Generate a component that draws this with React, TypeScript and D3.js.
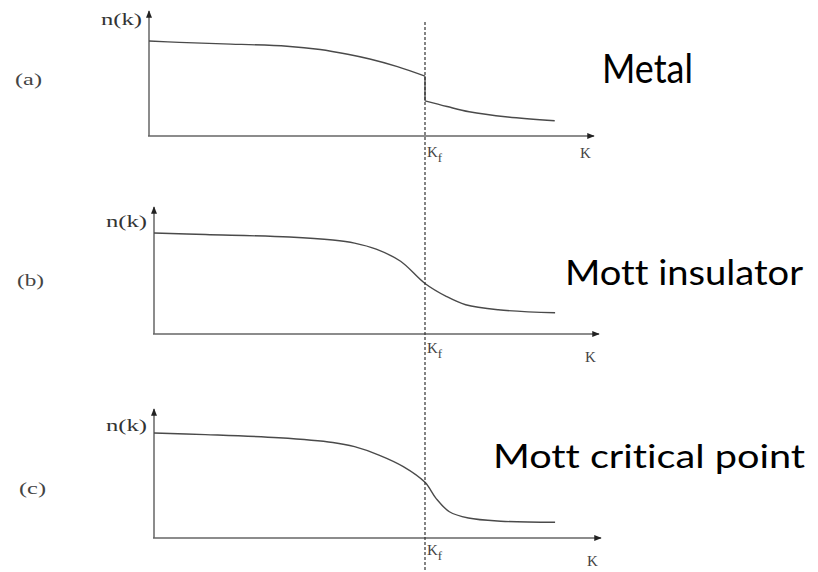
import React, { useEffect, useRef } from "react";
import * as d3 from "d3";

// k measured in units of K_f, n(k) in units of n(0)
const panelTags = ["(a)", "(b)", "(c)"];
const panelTitles = ["Metal", "Mott insulator", "Mott critical point"];

// (a) metal: two branches with a jump at K_f
const metalKBelow = [0, 0.11, 0.27, 0.5, 0.62, 0.72, 0.8, 0.9, 1.0];
const metalNBelow = [1, 0.985, 0.97, 0.945, 0.91, 0.86, 0.81, 0.73, 0.63];
const metalKAbove = [1.0, 1.08, 1.16, 1.3, 1.47];
const metalNAbove = [0.37, 0.31, 0.255, 0.2, 0.16];

// (b) Mott insulator: smooth crossover
const insK = [0, 0.19, 0.5, 0.66, 0.74, 0.82, 0.91, 1.0, 1.08, 1.15, 1.27, 1.48];
const insN = [1, 0.985, 0.96, 0.93, 0.9, 0.84, 0.72, 0.5, 0.37, 0.29, 0.24, 0.21];

// (c) Mott critical point: steeper drop
const critK = [0, 0.19, 0.46, 0.66, 0.74, 0.83, 0.92, 1.0, 1.04, 1.09, 1.16, 1.28, 1.48];
const critN = [1, 0.985, 0.955, 0.91, 0.87, 0.79, 0.68, 0.53, 0.38, 0.25, 0.19, 0.16, 0.15];

const App = () => {
  const svgRef = useRef(null);

  useEffect(() => {
    const width = 818, height = 572;
    const svg = d3.select(svgRef.current)
      .attr("width", width)
      .attr("height", height)
      .style("background", "#fff");
    svg.selectAll("*").remove();

    const ink = "#4a4a4a";
    const serif = "'Liberation Serif', 'DejaVu Serif', serif";

    svg.append("defs").append("marker")
      .attr("id", "arrow")
      .attr("viewBox", "0 0 10 10")
      .attr("refX", 9).attr("refY", 5)
      .attr("markerWidth", 5).attr("markerHeight", 5)
      .attr("orient", "auto")
      .append("path")
      .attr("d", "M0,1L10,5L0,9Z")
      .attr("fill", "#222");

    const zip = (ks, ns) => ks.map((k, i) => [k, ns[i]]);
    const curves = [
      [zip(metalKBelow, metalNBelow), zip(metalKAbove, metalNAbove)],
      [zip(insK, insN)],
      [zip(critK, critN)],
    ];

    // frame of each panel: y-axis x, K_f x, axis end, baseline, n(0) level, axis top
    const frames = [
      { x0: 149, xf: 425, xEnd: 594, yBase: 136, yOne: 41, yTop: 11, kfBase: 157, kBase: 158, nkBase: 25, tagBase: 85,
        title: { x: 602, y: 83, size: 40, len: 91 } },
      { x0: 154, xf: 425, xEnd: 599, yBase: 334, yOne: 233, yTop: 207, kfBase: 353, kBase: 362, nkBase: 227, tagBase: 286,
        title: { x: 565, y: 285, size: 35, len: 238 } },
      { x0: 154, xf: 425, xEnd: 601, yBase: 538, yOne: 433, yTop: 409, kfBase: 555, kBase: 566, nkBase: 431, tagBase: 494,
        title: { x: 493, y: 468, size: 33, len: 312 } },
    ];

    frames.forEach((f, i) => {
      const x = d3.scaleLinear().domain([0, 1]).range([f.x0, f.xf]);
      const y = d3.scaleLinear().domain([0, 1]).range([f.yBase, f.yOne]);
      const g = svg.append("g");

      // axes
      g.append("line")
        .attr("x1", f.x0).attr("y1", f.yBase)
        .attr("x2", f.x0).attr("y2", f.yTop)
        .attr("stroke", "#666").attr("stroke-width", 1.5)
        .attr("marker-end", "url(#arrow)");
      g.append("line")
        .attr("x1", f.x0 - 1).attr("y1", f.yBase)
        .attr("x2", f.xEnd).attr("y2", f.yBase)
        .attr("stroke", "#666").attr("stroke-width", 1.5)
        .attr("marker-end", "url(#arrow)");

      // n(k) curve
      const line = d3.line().x(d => x(d[0])).y(d => y(d[1])).curve(d3.curveCatmullRom.alpha(0.5));
      curves[i].forEach(seg => {
        g.append("path")
          .attr("d", line(seg))
          .attr("fill", "none")
          .attr("stroke", ink)
          .attr("stroke-width", 1.4);
      });
      if (curves[i].length > 1) {
        const a = curves[i][0][curves[i][0].length - 1];
        const b = curves[i][1][0];
        g.append("line")
          .attr("x1", x(a[0])).attr("y1", y(a[1]))
          .attr("x2", x(b[0])).attr("y2", y(b[1]))
          .attr("stroke", ink).attr("stroke-width", 1.4);
      }

      // labels
      g.append("text")
        .attr("x", f.x0 - 48).attr("y", f.nkBase)
        .attr("textLength", 41).attr("lengthAdjust", "spacingAndGlyphs")
        .style("font-family", serif).style("font-size", "17px").attr("fill", "#333")
        .text("n(k)");
      g.append("text")
        .attr("x", 15 + (i === 2 ? 4 : i === 1 ? 2 : 0)).attr("y", f.tagBase)
        .attr("textLength", 27).attr("lengthAdjust", "spacingAndGlyphs")
        .style("font-family", serif).style("font-size", "16px").attr("fill", "#444")
        .text(panelTags[i]);
      const kf = g.append("text")
        .attr("x", f.xf + 2).attr("y", f.kfBase)
        .style("font-family", serif).style("font-size", "15px").attr("fill", "#444");
      kf.append("tspan").text("K");
      kf.append("tspan").attr("dy", 5).style("font-size", "13px").text("f");
      g.append("text")
        .attr("x", f.xEnd - 14).attr("y", f.kBase)
        .style("font-family", serif).style("font-size", "15px").attr("fill", "#444")
        .text("K");

      g.append("text")
        .attr("x", f.title.x).attr("y", f.title.y)
        .attr("textLength", f.title.len).attr("lengthAdjust", "spacingAndGlyphs")
        .style("font-family", "Lato, 'Open Sans', sans-serif")
        .style("font-variant-ligatures", "none")
        .style("font-feature-settings", "'liga' 0, 'dlig' 0")
        .style("font-size", `${f.title.size}px`)
        .attr("fill", "#000")
        .text(panelTitles[i]);
    });

    // Fermi momentum marker shared by all panels
    const xShared = d3.scaleLinear().domain([0, 1]).range([149, 425]);
    svg.append("line")
      .attr("x1", xShared(1)).attr("y1", 22)
      .attr("x2", xShared(1)).attr("y2", height)
      .attr("stroke", "#333").attr("stroke-width", 1.2)
      .attr("stroke-dasharray", "3,2");
  }, []);

  return (
    <div style={{ position: "absolute", left: 0, top: 0 }}>
      <svg ref={svgRef}></svg>
    </div>
  );
};

export default App;
